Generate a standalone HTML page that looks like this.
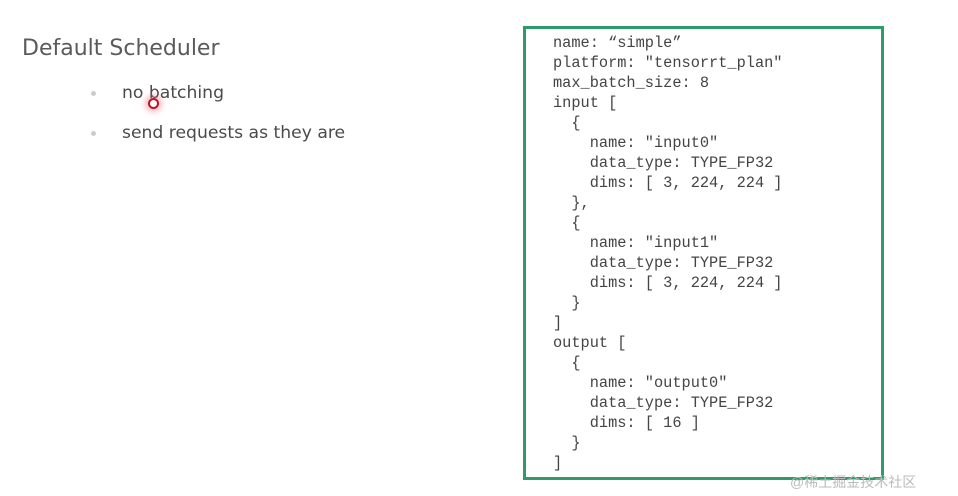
<!DOCTYPE html>
<html><head><meta charset="utf-8"><style>
body{margin:0;width:958px;height:496px;background:#fff;position:relative;overflow:hidden;font-family:"DejaVu Sans","Liberation Sans",sans-serif;color:#555}
.t{position:absolute;left:22px;top:36px;font-size:22px;color:#5a5a5a}
.b{position:absolute;left:122px;font-size:17.2px;color:#4a4a4a}
.d{position:absolute;left:91px;width:5px;height:5px;border-radius:50%;background:#ccc}
.box{position:absolute;left:523px;top:26px;width:355px;height:448px;border:3px solid #2f9a6c}
pre{position:absolute;left:553px;top:33px;margin:0;font-family:"Liberation Mono",monospace;font-size:15.3px;line-height:20px;color:#444}
.w{position:absolute;left:790px;top:472px;font-size:14px;color:#bbb;font-family:"Liberation Sans","Noto Sans CJK SC",sans-serif}
.dot{position:absolute;left:148px;top:98px;width:7px;height:7px;border-radius:50%;border:2px solid #c0102a;box-shadow:0 0 6px 3px rgba(230,80,100,.4)}
</style></head><body>
<div class="t">Default Scheduler</div>
<div class="d" style="top:91px"></div><div class="b" style="top:83px">no batching</div>
<div class="d" style="top:131px"></div><div class="b" style="top:123px">send requests as they are</div>
<div class="dot"></div>
<div class="box"></div>
<pre>name: “simple”
platform: "tensorrt_plan"
max_batch_size: 8
input [
  {
    name: "input0"
    data_type: TYPE_FP32
    dims: [ 3, 224, 224 ]
  },
  {
    name: "input1"
    data_type: TYPE_FP32
    dims: [ 3, 224, 224 ]
  }
]
output [
  {
    name: "output0"
    data_type: TYPE_FP32
    dims: [ 16 ]
  }
]</pre>
<div class="w">@稀土掘金技术社区</div>
</body></html>
